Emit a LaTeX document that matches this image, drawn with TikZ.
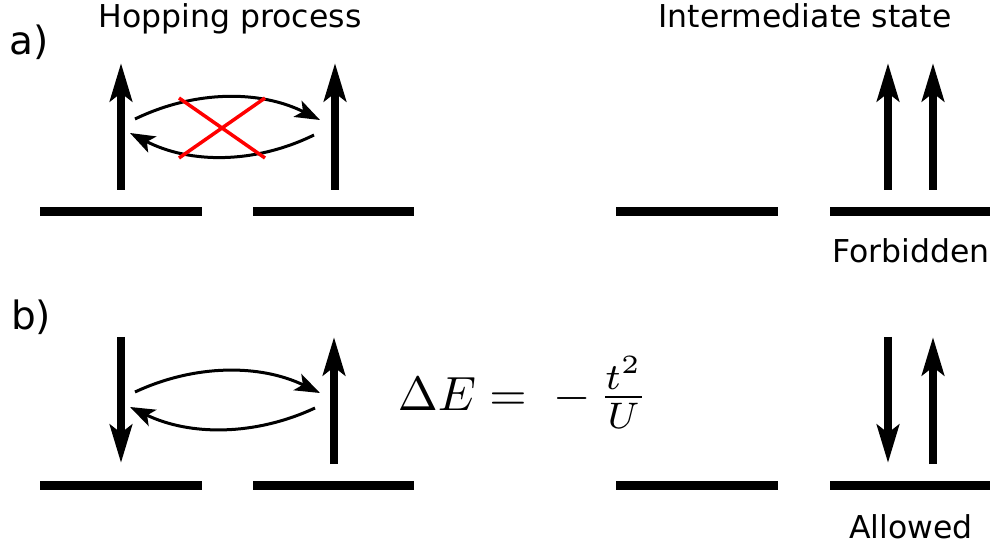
\documentclass[tikz,border=0pt]{standalone}
\usepackage{fontspec}
\usepackage{graphicx}
\setmainfont{DejaVu Sans}
\usetikzlibrary{arrows.meta}
\begin{document}
\begin{tikzpicture}[x=1pt,y=-1pt,
  level/.style={line width=9pt},
  spin/.style={line width=8pt,-{Stealth[length=38pt,width=22pt,inset=8pt]}},
  hop/.style={line width=3pt,-{Stealth[length=25pt,width=18pt,inset=6pt]}},
  cross/.style={red,line width=3.5pt},
  lbl/.style={inner sep=0pt,anchor=base,font=\fontsize{31.5}{38}\selectfont},
  tag/.style={inner sep=0pt,anchor=base west,font=\fontsize{39}{46}\selectfont}]
\useasboundingbox (0,0) rectangle (997,548);
% energy levels, panels a and b
\foreach \p/\y in {a/212,b/485}{
  \coordinate (\p1l) at (40,\y);  \coordinate (\p1r) at (202,\y);
  \coordinate (\p2l) at (253,\y); \coordinate (\p2r) at (414,\y);
  \coordinate (\p3l) at (616,\y); \coordinate (\p3r) at (778,\y);
  \coordinate (\p4l) at (830,\y); \coordinate (\p4r) at (990,\y);
  \draw[level] (\p1l) -- (\p1r);
  \draw[level] (\p2l) -- (\p2r);
  \draw[level] (\p3l) -- (\p3r);
  \draw[level] (\p4l) -- (\p4r);
}
% panel a spins
\coordinate (aS1b) at (121,190); \coordinate (aS1t) at (121,63);
\coordinate (aS2b) at (335,190); \coordinate (aS2t) at (335,63);
\coordinate (aS3b) at (888,190); \coordinate (aS3t) at (888,63);
\coordinate (aS4b) at (933,190); \coordinate (aS4t) at (933,63);
\draw[spin] (aS1b) -- (aS1t);
\draw[spin] (aS2b) -- (aS2t);
\draw[spin] (aS3b) -- (aS3t);
\draw[spin] (aS4b) -- (aS4t);
% panel a hopping
\coordinate (aH1s) at (135,119); \coordinate (aH1e) at (320,120);
\coordinate (aH2s) at (314,135); \coordinate (aH2e) at (130,133);
\draw[hop] (aH1s) .. controls (195,90) and (260,90) .. (aH1e);
\draw[hop] (aH2s) .. controls (255,164) and (190,164) .. (aH2e);
\coordinate (x1) at (179,98); \coordinate (x2) at (265,158);
\coordinate (x3) at (265,98); \coordinate (x4) at (179,158);
\draw[cross] (x1) -- (x2);
\draw[cross] (x3) -- (x4);
% panel b spins
\coordinate (bS1t) at (121,337); \coordinate (bS1b) at (121,463);
\coordinate (bS2b) at (334,464); \coordinate (bS2t) at (334,337);
\coordinate (bS3t) at (888,337); \coordinate (bS3b) at (888,463);
\coordinate (bS4b) at (933,464); \coordinate (bS4t) at (933,337);
\draw[spin] (bS1t) -- (bS1b);
\draw[spin] (bS2b) -- (bS2t);
\draw[spin] (bS3t) -- (bS3b);
\draw[spin] (bS4b) -- (bS4t);
% panel b hopping
\coordinate (bH1s) at (135,392); \coordinate (bH1e) at (320,393);
\coordinate (bH2s) at (315,408); \coordinate (bH2e) at (130,407);
\draw[hop] (bH1s) .. controls (195,364) and (260,364) .. (bH1e);
\draw[hop] (bH2s) .. controls (255,436) and (190,436) .. (bH2e);
% labels
\node[tag] (ta) at (9,55) {a)};
\node[tag] (tb) at (11,330) {b)};
\node[lbl] (hp) at (230,28) {Hopping process};
\node[lbl] (is) at (805,28) {Intermediate state};
\node[lbl] (fb) at (911,263) {Forbidden};
\node[lbl] (al) at (911,538) {Allowed};
\node[inner sep=0pt,anchor=base west,scale=4.8] (de) at (397,410) {$\Delta E = \mkern5mu -\mkern3mu\scalebox{1.1}{$\frac{t^2}{U}$}$};
\end{tikzpicture}
\end{document}
